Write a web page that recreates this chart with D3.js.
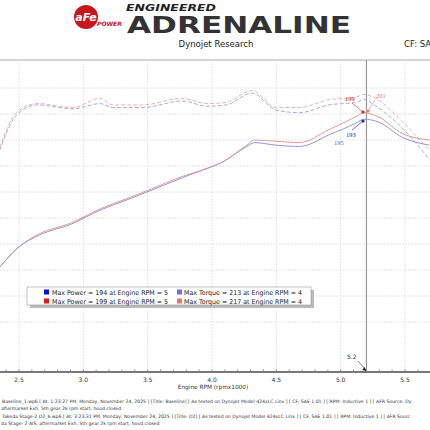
<!DOCTYPE html>
<html><head><meta charset="utf-8">
<script src="https://cdn.jsdelivr.net/npm/d3@7"></script>
<style>body{margin:0;background:#fff}svg{display:block;font-family:Tahoma,"DejaVu Sans",sans-serif}</style>
</head><body><svg id="c" width="430" height="430"></svg>
<script>
const xTicks=[2.5,3.0,3.5,4.0,4.5,5.0,5.5];
const yGrid=[40,60,80,100,120,140,160,180,200,220];
const rpmPow=[2.35,2.49,2.66,2.9,3.13,3.34,3.52,3.77,3.93,4.08,4.27,4.33,4.5,4.68,4.91,5.12,5.18,5.29,5.48,5.69];
const powerBase=[82,97,107,115,126,134,141,151,157,163,175,178,176,175,184,193,196,194,182,176];
const powerD2=[82,97,108,116,127,135,142,152,157,163,176,180,179,178,188,198,201,198,185,180];
const rpmTq=[2.35,2.48,2.64,2.92,3.13,3.23,3.46,3.77,3.96,4.11,4.31,4.5,4.68,4.91,5.12,5.18,5.29,5.45,5.69];
const torqueBase=[172,199,207,204,208,205,205,210,206,207,216,203,201,207,209,211,205,192,165];
const torqueD2=[174,201,208,205,212,207,207,212,208,209,218,205,205,211,213,215,211,197,172];
const legendRows=[["#1010d0","Max Power = 194 at Engine RPM = 5","#7070e0","Max Torque = 213 at Engine RPM = 4"],
["#e01818","Max Power = 199 at Engine RPM = 5","#f07070","Max Torque = 217 at Engine RPM = 4"]];
const footer=["Baseline_1.wp6 [ At: 1:23:27 PM, Monday, November 24, 2025 ] [Title: Baseline]  [ As tested on Dynojet Model 424xLC Linx ] [ CF: SAE 1.01 ] [ RPM: Inductive 1 ] [ AFR Source: Dy",
"aftermarket Exh, 5th gear 2k rpm start, hood closed",
"Takeda Stage-2 D2_6.wp6 [ At: 3:23:31 PM, Monday, November 24, 2025 ] [Title: D2]  [ As tested on Dynojet Model 424xLC Linx ] [ CF: SAE 1.01 ] [ RPM: Inductive 1 ] [ AFR Sourc",
"da Stage- 2 AIS, aftermarket Exh, 5th gear 2k rpm start, hood closed"];
const cursor=5.2;

const svg=d3.select("#c");
const x=d3.scaleLinear().domain([2.5,5.5]).range([19,405]);
const y=d3.scaleLinear().domain([0,240]).range([374,62]);

// header
svg.append("circle").attr("cx",86).attr("cy",17).attr("r",12).attr("fill","#c8161d");
svg.append("text").attr("x",86).attr("y",21).attr("text-anchor","middle").attr("fill","#fff").attr("font-size",11).attr("font-weight","bold").attr("font-style","italic").text("aFe");
svg.append("text").attr("x",97).attr("y",26).attr("fill","#c8161d").attr("font-size",6).attr("font-weight","bold").attr("font-style","italic").text("POWER");
svg.append("text").attr("x",126).attr("y",11).attr("fill","#222").attr("font-size",8.5).attr("font-weight","bold").attr("font-style","italic").attr("textLength",90).attr("lengthAdjust","spacingAndGlyphs").text("ENGINEERED");
svg.append("text").attr("x",127).attr("y",33).attr("fill","#333").attr("font-size",23).attr("font-weight","bold").attr("font-family","Verdana,'DejaVu Sans'").attr("textLength",224).attr("lengthAdjust","spacingAndGlyphs").text("ADRENALINE");
svg.append("text").attr("x",216).attr("y",47).attr("text-anchor","middle").attr("font-size",8.5).attr("fill","#222").text("Dynojet Research");
svg.append("text").attr("x",404).attr("y",47).attr("font-size",8.5).attr("fill","#222").text("CF: SA");

// grid
svg.append("line").attr("x1",0).attr("x2",430).attr("y1",60).attr("y2",60).attr("stroke","#aaa");
yGrid.forEach(v=>svg.append("line").attr("x1",0).attr("x2",430).attr("y1",y(v)).attr("y2",y(v)).attr("stroke","#e6e6e6").attr("stroke-dasharray","2,1"));
xTicks.forEach(t=>svg.append("line").attr("x1",x(t)).attr("x2",x(t)).attr("y1",60).attr("y2",372).attr("stroke","#e6e6e6").attr("stroke-dasharray","2,1"));

// lines
const lp=d3.line().x((d,i)=>x(rpmPow[i])).y(d=>y(d)).curve(d3.curveMonotoneX);
const lt=d3.line().x((d,i)=>x(rpmTq[i])).y(d=>y(d)).curve(d3.curveMonotoneX);
svg.append("path").attr("d",lt(torqueBase)).attr("fill","none").attr("stroke","#a0a0e8").attr("stroke-dasharray","4,2").attr("stroke-width",0.9);
svg.append("path").attr("d",lt(torqueD2)).attr("fill","none").attr("stroke","#f0a8a8").attr("stroke-dasharray","4,2").attr("stroke-width",0.9);
svg.append("path").attr("d",lp(powerBase)).attr("fill","none").attr("stroke","#8888d8").attr("stroke-width",0.9);
svg.append("path").attr("d",lp(powerD2)).attr("fill","none").attr("stroke","#e09090").attr("stroke-width",0.9);

// cursor
svg.append("line").attr("x1",x(cursor)).attr("x2",x(cursor)).attr("y1",60).attr("y2",372).attr("stroke","#888").attr("stroke-width",1);
function ann(tx,ty,px,py,col){
 svg.append("line").attr("x1",tx).attr("y1",ty).attr("x2",px).attr("y2",py).attr("stroke",col).attr("stroke-width",0.6);
 svg.append("circle").attr("cx",px).attr("cy",py).attr("r",1.6).attr("fill",col);
}
ann(352,103,363,112,'#e02020');
svg.append("text").attr("x",345).attr("y",101).attr("font-size",6.5).attr("fill","#d02020").attr("font-family","Times,'Liberation Serif'").text("199");
ann(375,100,368,111,'#f08080');
svg.append("text").attr("x",376).attr("y",98).attr("font-size",6.5).attr("fill","#f07070").attr("font-family","Times,'Liberation Serif'").text("201");
ann(352,130,363,121,'#2020d0');
svg.append("text").attr("x",346).attr("y",137).attr("font-size",6.5).attr("fill","#2020c0").attr("font-family","Times,'Liberation Serif'").text("193");
svg.append("text").attr("x",334).attr("y",145).attr("font-size",6.5).attr("fill","#6060d0").attr("font-family","Times,'Liberation Serif'").text("195");

// legend
svg.append("rect").attr("x",30).attr("y",290).attr("width",284).attr("height",18).attr("fill","#bbb");
svg.append("rect").attr("x",27).attr("y",287).attr("width",284).attr("height",18).attr("fill","#fff").attr("stroke","#999").attr("stroke-width",0.6);
legendRows.forEach((r,i)=>{
 const yy=292+i*9;
 svg.append("rect").attr("x",44).attr("y",yy-2.5).attr("width",5).attr("height",5).attr("fill",r[0]);
 svg.append("text").attr("x",52).attr("y",yy+2.5).attr("font-size",6.6).attr("fill","#222").attr("textLength",116).attr("lengthAdjust","spacingAndGlyphs").text(r[1]);
 svg.append("rect").attr("x",177).attr("y",yy-2.5).attr("width",5).attr("height",5).attr("fill",r[2]);
 svg.append("text").attr("x",184).attr("y",yy+2.5).attr("font-size",6.6).attr("fill","#222").attr("textLength",118).attr("lengthAdjust","spacingAndGlyphs").text(r[3]);
});

// x axis
const ax=svg.append("g").attr("transform","translate(0,372)");
ax.append("line").attr("x1",0).attr("x2",430).attr("stroke","#777").attr("stroke-width",2);
d3.range(2.3,5.85,0.1).forEach(t=>ax.append("line").attr("x1",x(t)).attr("x2",x(t)).attr("y1",-3).attr("y2",0).attr("stroke","#777").attr("stroke-width",0.6));
xTicks.forEach(t=>ax.append("text").attr("x",x(t)).attr("y",10).attr("text-anchor","middle").attr("font-size",6).attr("fill","#333").text(t.toFixed(1)));
svg.append("text").attr("x",213).attr("y",389).attr("text-anchor","middle").attr("font-size",5.8).attr("fill","#333").text("Engine RPM (rpmx1000)");
svg.append("text").attr("x",347).attr("y",359).attr("font-size",6).attr("fill","#333").text("5.2");
svg.append("line").attr("x1",358).attr("y1",361).attr("x2",366).attr("y2",370).attr("stroke","#333").attr("stroke-width",0.6);
svg.append("path").attr("d",`M${x(cursor)},371l-4,-1l2,-3z`).attr("fill","#222");

footer.forEach((f,i)=>svg.append("text").attr("x",i%2? 1:2).attr("y",[403,410,418,425][i]).attr("font-size",4.6).attr("fill","#333").text(f));
</script></body></html>
